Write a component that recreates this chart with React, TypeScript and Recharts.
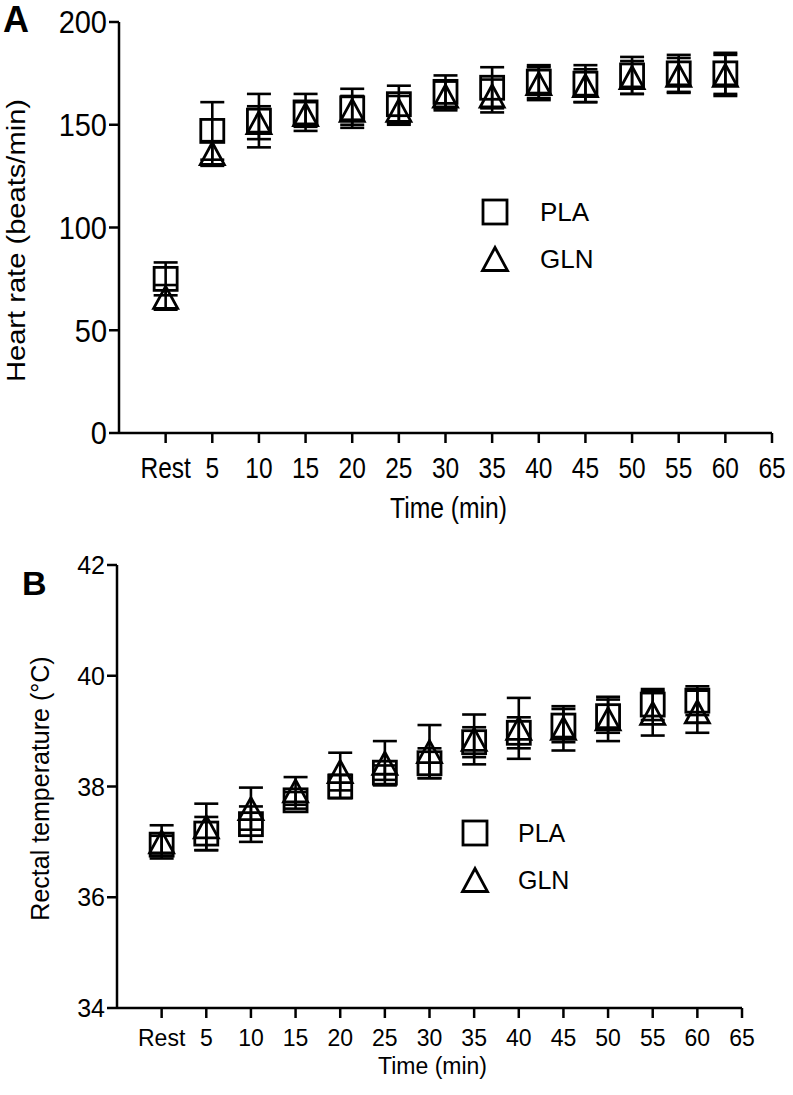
import React from 'react';
import { ScatterChart, Scatter, XAxis, YAxis, ErrorBar, Legend } from 'recharts';

const FONT = "'Liberation Sans', Arial, Helvetica, sans-serif";

// time points (Rest plotted at 0)
const times = [0, 5, 10, 15, 20, 25, 30, 35, 40, 45, 50, 55, 60];
const xTicks = [0, 5, 10, 15, 20, 25, 30, 35, 40, 45, 50, 55, 60, 65];
const restLabel = 'Rest';

// Panel A: heart rate (beats/min)
const hrPLA = [75, 147, 152, 156, 158, 160, 166, 168, 171, 170, 174, 175, 175];
const hrPLAErr = [8, 14, 13, 9, 9.5, 9, 8, 10, 8, 9, 9, 9, 10];
const hrGLN = [66, 136, 151, 155, 157, 157, 164, 164, 170, 169, 173, 174, 174];
const hrGLNErr = [6, 6, 8, 6, 7, 7, 7, 8, 8, 8, 8, 8.5, 10];
const hrTicks = [0, 50, 100, 150, 200];

// Panel B: rectal temperature (°C)
const tPLA = [36.95, 37.15, 37.32, 37.75, 38.0, 38.25, 38.42, 38.8, 38.97, 39.1, 39.27, 39.48, 39.55];
const tPLAErr = [0.16, 0.3, 0.32, 0.15, 0.21, 0.13, 0.27, 0.27, 0.28, 0.3, 0.3, 0.28, 0.26];
const tGLN = [37.0, 37.27, 37.6, 37.92, 38.27, 38.42, 38.63, 38.85, 39.05, 39.05, 39.22, 39.32, 39.35];
const tGLNErr = [0.3, 0.42, 0.38, 0.25, 0.34, 0.4, 0.48, 0.45, 0.55, 0.4, 0.4, 0.4, 0.38];
const tTicks = [34, 36, 38, 40, 42];

const seriesNames = ['PLA', 'GLN'];

const build = (vals: number[], errs: number[]) =>
  times.map((t, i) => ({ x: t, y: vals[i], e: errs[i] }));

const fmtX = (v: number) => (v === 0 ? restLabel : String(v));

const makeSquare = (s: number) => (props: any) => {
  const { cx, cy } = props;
  if (cx == null || cy == null) return <g />;
  return <rect x={cx - s / 2} y={cy - s / 2} width={s} height={s} fill="none" stroke="#000" strokeWidth={2.8} />;
};

const makeTriangle = (w: number, h: number) => (props: any) => {
  const { cx, cy } = props;
  if (cx == null || cy == null) return <g />;
  const d = `M${cx},${cy - h / 2} L${cx + w / 2},${cy + h / 2} L${cx - w / 2},${cy + h / 2} Z`;
  return <path d={d} fill="none" stroke="#000" strokeWidth={2.8} strokeLinejoin="miter" />;
};

const SquareIcon = ({ s }: { s: number }) => (
  <svg width={30} height={30} style={{ display: 'block' }}>
    <rect x={15 - s / 2} y={15 - s / 2} width={s} height={s} fill="none" stroke="#000" strokeWidth={2.8} />
  </svg>
);
const TriangleIcon = ({ w, h }: { w: number; h: number }) => (
  <svg width={30} height={30} style={{ display: 'block' }}>
    <path d={`M15,${15 - h / 2} L${15 + w / 2},${15 + h / 2} L${15 - w / 2},${15 + h / 2} Z`} fill="none" stroke="#000" strokeWidth={2.8} />
  </svg>
);

const makeLegend = (fontSize: number, gap: number, rowH: number, s: number, tw: number, th: number) => () => (
  <div style={{ fontFamily: FONT, fontSize, color: '#000' }}>
    {seriesNames.map((name, i) => (
      <div key={name} style={{ display: 'flex', alignItems: 'center', height: rowH }}>
        {i === 0 ? <SquareIcon s={s} /> : <TriangleIcon w={tw} h={th} />}
        <span style={{ marginLeft: gap, lineHeight: 1 }}>{name}</span>
      </div>
    ))}
  </div>
);

const axisStyle = { stroke: '#000', strokeWidth: 2.5 };

// ---------- Panel A ticks ----------
const XTickA = (props: any) => {
  const { x, y, payload } = props;
  return (
    <g transform={`translate(${x},${y + 22}) scale(1,1.2)`}>
      <text textAnchor="middle" dy="0.36em" fontSize={24.5} fontFamily={FONT} fill="#000">
        {fmtX(payload.value)}
      </text>
    </g>
  );
};
const YTickA = (props: any) => {
  const { x, y, payload } = props;
  return (
    <g transform={`translate(${x},${y}) scale(1,1.1)`}>
      <text textAnchor="end" dy="0.36em" fontSize={29} fontFamily={FONT} fill="#000">
        {payload.value}
      </text>
    </g>
  );
};
const XTickB = (props: any) => {
  const { x, y, payload } = props;
  return (
    <text x={x} y={y + 18} textAnchor="middle" dy="0.36em" fontSize={23} fontFamily={FONT} fill="#000">
      {fmtX(payload.value)}
    </text>
  );
};
const YTickB = (props: any) => {
  const { x, y, payload } = props;
  return (
    <text x={x} y={y} textAnchor="end" dy="0.36em" fontSize={25} fontFamily={FONT} fill="#000">
      {payload.value}
    </text>
  );
};

const xLabelA = (p: any) => {
  const vb = p.viewBox || { x: 119, y: 433, width: 653, height: 107 };
  const cx = vb.x + vb.width / 2 + 3;
  const cy = vb.y + 76;
  return (
    <g transform={`translate(${cx},${cy}) scale(1,1.2)`}>
      <text textAnchor="middle" dy="0.32em" fontSize={24.7} fontFamily={FONT} fill="#000">Time (min)</text>
    </g>
  );
};
const yLabelA = (p: any) => {
  const vb = p.viewBox || { x: 0, y: 22, width: 119, height: 411 };
  const cx = vb.x + 17;
  const cy = vb.y + vb.height / 2 + 13;
  return (
    <g transform={`translate(${cx},${cy}) rotate(-90) scale(1.12,1)`}>
      <text textAnchor="middle" dy="0.32em" fontSize={26} fontFamily={FONT} fill="#000">Heart rate (beats/min)</text>
    </g>
  );
};
const xLabelB = (p: any) => {
  const vb = p.viewBox || { x: 117, y: 468, width: 625, height: 87 };
  const cx = vb.x + vb.width / 2 + 3;
  const cy = vb.y + 59;
  return (
    <text x={cx} y={cy} textAnchor="middle" dy="0.32em" fontSize={23} fontFamily={FONT} fill="#000">Time (min)</text>
  );
};
const yLabelB = (p: any) => {
  const vb = p.viewBox || { x: 0, y: 25, width: 117, height: 443 };
  const cx = vb.x + 41;
  const cy = vb.y + vb.height / 2 + 2;
  return (
    <g transform={`translate(${cx},${cy}) rotate(-90)`}>
      <text textAnchor="middle" dy="0.32em" fontSize={25} fontFamily={FONT} fill="#000">Rectal temperature (°C)</text>
    </g>
  );
};

const PanelA = () => (
  <ScatterChart width={793} height={540} margin={{ top: 22, right: 21, bottom: 0, left: 0 }}>
    <XAxis
      type="number"
      dataKey="x"
      domain={[-5, 65]}
      ticks={xTicks}
      interval={0}
      height={107}
      axisLine={axisStyle}
      tickLine={axisStyle}
      tickSize={10}
      tick={XTickA}
      label={xLabelA}
      allowDataOverflow
    />
    <YAxis
      type="number"
      dataKey="y"
      domain={[0, 200]}
      ticks={hrTicks}
      interval={0}
      width={119}
      axisLine={axisStyle}
      tickLine={axisStyle}
      tickSize={10}
      tick={YTickA}
      label={yLabelA}
      allowDataOverflow
    />
    <Scatter name={seriesNames[0]} data={build(hrPLA, hrPLAErr)} shape={makeSquare(23)} isAnimationActive={false}>
      <ErrorBar dataKey="e" direction="y" width={12} stroke="#000" strokeWidth={2.6} />
    </Scatter>
    <Scatter name={seriesNames[1]} data={build(hrGLN, hrGLNErr)} shape={makeTriangle(24, 22)} isAnimationActive={false}>
      <ErrorBar dataKey="e" direction="y" width={12} stroke="#000" strokeWidth={2.6} />
    </Scatter>
    <Legend
      layout="vertical"
      align="center"
      verticalAlign="middle"
      content={makeLegend(26, 30, 47, 24, 25, 23)}
      wrapperStyle={{ left: 480, top: 188.5, width: 160, height: 94 }}
    />
  </ScatterChart>
);

const PanelB = () => (
  <ScatterChart width={793} height={555} margin={{ top: 25, right: 51, bottom: 0, left: 0 }}>
    <XAxis
      type="number"
      dataKey="x"
      domain={[-5, 65]}
      ticks={xTicks}
      interval={0}
      height={87}
      axisLine={axisStyle}
      tickLine={axisStyle}
      tickSize={10}
      tick={XTickB}
      label={xLabelB}
      allowDataOverflow
    />
    <YAxis
      type="number"
      dataKey="y"
      domain={[34, 42]}
      ticks={tTicks}
      interval={0}
      width={117}
      axisLine={axisStyle}
      tickLine={axisStyle}
      tickSize={10}
      tick={YTickB}
      label={yLabelB}
      allowDataOverflow
    />
    <Scatter name={seriesNames[0]} data={build(tPLA, tPLAErr)} shape={makeSquare(23)} isAnimationActive={false}>
      <ErrorBar dataKey="e" direction="y" width={12} stroke="#000" strokeWidth={2.6} />
    </Scatter>
    <Scatter name={seriesNames[1]} data={build(tGLN, tGLNErr)} shape={makeTriangle(24, 22)} isAnimationActive={false}>
      <ErrorBar dataKey="e" direction="y" width={12} stroke="#000" strokeWidth={2.6} />
    </Scatter>
    <Legend
      layout="vertical"
      align="center"
      verticalAlign="middle"
      content={makeLegend(25, 28, 47, 24, 25, 23)}
      wrapperStyle={{ left: 460, top: 269.5, width: 160, height: 94 }}
    />
  </ScatterChart>
);

export default function App() {
  return (
    <div style={{ position: 'absolute', left: 0, top: 0, width: 793, height: 1095, background: '#fff' }}>
      <div style={{ position: 'absolute', left: 0, top: 0 }}>
        <PanelA />
      </div>
      <div style={{ position: 'absolute', left: 0, top: 540 }}>
        <PanelB />
      </div>
      <div style={{ position: 'absolute', left: 3, top: 2, fontFamily: FONT, fontWeight: 'bold', fontSize: 36, lineHeight: '36px' }}>A</div>
      <div style={{ position: 'absolute', left: 22, top: 566, fontFamily: FONT, fontWeight: 'bold', fontSize: 34, lineHeight: '34px' }}>B</div>
    </div>
  );
}
